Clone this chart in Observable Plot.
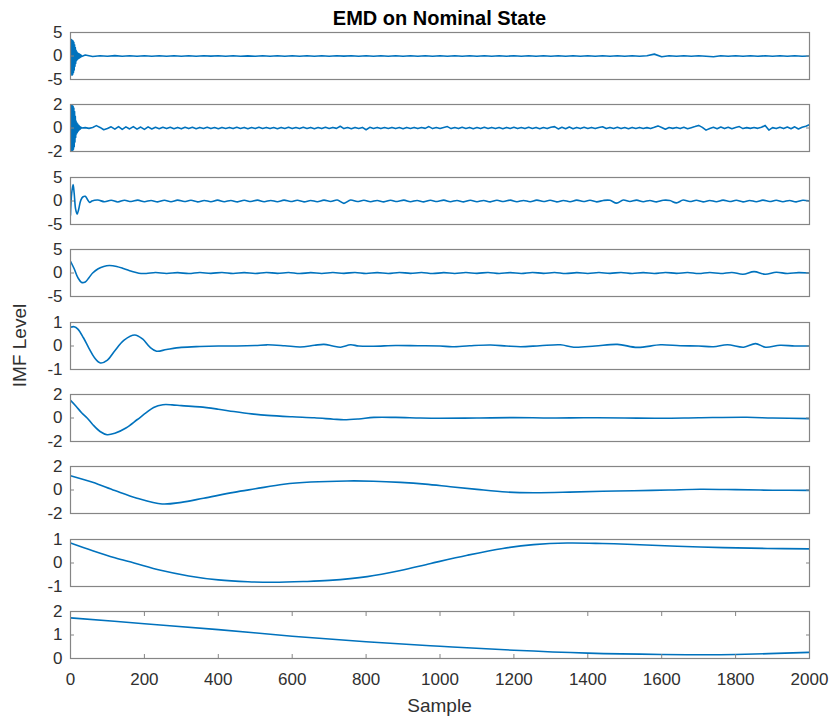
<!DOCTYPE html>
<html><head><meta charset="utf-8">
<script src="https://cdn.jsdelivr.net/npm/d3@7"></script>
<script src="https://cdn.jsdelivr.net/npm/@observablehq/plot@0.6"></script>
<style>
body{margin:0;background:#fff;}
#chart{position:relative;width:832px;height:720px;font-family:"Liberation Sans",Arial,sans-serif;}
#chart svg{position:absolute;left:0;}
</style></head><body><div id="chart"></div>
<script>
// ---------- data ----------
const titleText = "EMD on Nominal State";
const yLabelText = "IMF Level";
const xLabelText = "Sample";
const sampleTicks = [0, 200, 400, 600, 800, 1000, 1200, 1400, 1600, 1800, 2000];

// IMF 1 : burst at start (every sample 0..30), then tail every 20 samples from 40
const imf1HeadValues = [0, 3.4, -3.8, 3.5, -4.1, 3.3, -3.9, 3.2, -3.5, 2.9, -3.0, 2.4, -2.2, 1.8, -1.6, 1.2, -1.0, 0.9, -0.8, 0.7, -0.6, 0.5, -0.5, 0.45, -0.4, 0.35, -0.3, 0.25, -0.2, 0.15, -0.1];
const imf1TailValues = [
 0.2,-0.1,0.05,-0.05,0.08,-0.06,0.05,-0.04,0.06,-0.05,
 0.04,-0.06,0.05,-0.04,0.06,-0.05,0.04,-0.03,0.05,-0.06,
 0.05,-0.04,0.03,-0.05,0.06,-0.04,0.05,-0.06,0.04,-0.05,
 0.06,-0.04,0.05,-0.05,0.04,-0.03,0.05,-0.06,0.05,-0.04,
 0.06,-0.05,0.04,-0.05,0.05,-0.06,0.04,-0.05,0.05,-0.04,
 0.06,-0.05,0.04,-0.06,0.05,-0.04,0.05,-0.05,0.06,-0.04,
 0.05,-0.05,0.04,-0.06,0.05,-0.04,0.05,-0.05,0.04,-0.05,
 0.06,-0.04,0.05,-0.05,0.04,-0.06,0.05,0.4,-0.15,0.05,
 -0.04,0.05,-0.05,0.04,-0.06,-0.15,0.05,-0.04,0.05,-0.05,
 0.04,-0.05,0.05,-0.04,0.06,-0.05,0.04,-0.05,0.0];

// IMF 2 : burst (every sample 0..30), then tail every 10 samples from 40
const imf2HeadValues = [0, 1.95, -1.9, 1.95, -1.95, 1.9, -1.9, 1.85, -1.8, 1.7, -1.6, 1.4, -1.2, 1.0, -0.8, 0.6, -0.5, 0.45, -0.4, 0.35, -0.3, 0.25, -0.2, 0.2, -0.15, 0.1, -0.1, 0.08, -0.05, 0.05, 0];
const imf2TailValues = [
 0.03,-0.03,0.05,0.2,0.05,-0.15,-0.05,0.1,-0.1,0.12,
 -0.12,0.1,-0.08,0.12,-0.1,0.08,-0.12,0.1,-0.08,0.06,
 -0.06,0.07,-0.05,0.06,-0.06,0.05,-0.07,0.06,-0.05,0.06,
 -0.06,0.05,-0.04,0.06,-0.05,0.04,-0.06,0.05,-0.04,0.05,
 -0.05,0.06,-0.04,0.05,-0.06,0.04,-0.05,0.06,-0.04,0.05,
 -0.05,0.04,-0.06,0.05,-0.04,0.06,-0.05,0.04,-0.05,0.06,
 -0.04,0.05,-0.06,0.04,-0.05,0.06,-0.04,0.05,-0.03,0.15,
 -0.05,0.04,-0.06,0.05,-0.04,0.05,-0.15,0.06,-0.04,0.05,
 -0.05,0.04,-0.04,0.05,-0.05,0.04,-0.06,0.05,-0.04,0.05,
 -0.05,0.04,-0.03,0.12,-0.05,0.04,-0.04,0.05,0.12,-0.05,
 0.04,-0.05,0.06,-0.04,0.05,-0.06,0.04,-0.05,0.06,-0.04,
 0.05,-0.05,0.04,-0.06,0.05,-0.04,0.06,-0.05,0.04,-0.05,
 0.06,-0.04,0.05,-0.06,0.04,-0.05,0.06,0.12,-0.08,0.06,
 -0.06,0.08,-0.06,0.05,-0.05,0.06,-0.04,0.05,-0.05,0.04,
 0.1,-0.05,0.05,-0.04,0.06,-0.05,0.04,-0.06,0.05,-0.04,
 0.05,-0.04,0.03,-0.05,0.06,0.18,0.05,-0.1,0.04,-0.03,
 0.05,-0.05,0.06,-0.06,0.03,0.12,0.22,0.05,-0.18,-0.04,
 0.06,-0.06,0.08,-0.05,0.06,-0.06,0.05,0.12,-0.05,0.03,
 -0.03,0.04,-0.03,0.06,0.22,-0.18,0.03,-0.05,0.06,-0.05,
 0.08,-0.06,0.1,-0.08,0.06,0.15,0.28];

// IMF 3 : head at listed samples, tail every 18 samples from 74
const imf3HeadSamples = [0, 3, 7, 10, 14, 18, 22, 28, 34, 40, 46, 52, 58];
const imf3HeadValues = [-3.0, 1.5, 3.5, 1.6, -1.8, -2.8, -1.8, 0.2, 0.9, 1.0, 0.3, -0.3, 0.0];
const imf3TailValues = [
 0.2,-0.15,0.15,-0.2,0.15,-0.12,0.18,-0.15,0.12,-0.18,
 0.15,-0.15,0.18,-0.12,0.15,-0.18,0.12,-0.15,0.18,-0.15,
 0.12,-0.18,0.15,-0.12,0.18,-0.15,0.12,-0.15,0.18,-0.12,
 0.15,-0.18,0.12,-0.15,0.18,-0.12,0.2,-0.5,0.2,-0.12,
 0.15,-0.15,0.12,-0.18,0.15,-0.12,0.18,-0.15,0.12,-0.18,
 0.15,-0.12,0.18,-0.15,0.12,-0.18,0.15,-0.15,0.12,-0.18,
 0.15,-0.12,0.18,-0.15,0.12,-0.15,0.18,-0.12,0.15,-0.18,
 0.12,-0.15,0.18,-0.12,0.15,-0.18,0.12,0.15,-0.45,0.2,
 -0.12,0.18,-0.15,0.12,-0.18,0.15,0.1,-0.4,0.2,-0.12,
 0.15,-0.18,0.12,-0.15,0.18,-0.12,0.15,-0.18,0.12,-0.15,
 0.18,-0.12,0.15,-0.15,0.12,-0.18,0.15,0.0];

// IMF 4 : head at listed samples, tail every 30 samples from 230
const imf4HeadSamples = [0, 10, 20, 30, 40, 50, 60, 75, 90, 105, 125, 145, 165, 185, 205];
const imf4HeadValues = [2.5, 0.9, -1.0, -2.0, -1.9, -1.0, 0.0, 0.9, 1.4, 1.6, 1.4, 0.9, 0.35, -0.05, -0.1];
const imf4TailValues = [
 0.1,-0.1,0.08,-0.12,0.1,-0.08,0.12,-0.1,0.08,-0.1,
 0.12,-0.08,0.1,-0.12,0.08,-0.1,0.1,-0.08,0.12,-0.1,
 0.08,-0.1,0.12,-0.08,0.1,-0.12,0.08,-0.1,0.1,-0.08,
 0.12,-0.1,0.08,-0.1,0.12,-0.08,0.1,-0.12,0.08,-0.1,
 0.1,-0.08,0.12,-0.1,0.08,-0.1,0.12,-0.08,0.1,-0.12,
 0.1,-0.1,0.12,-0.25,0.3,-0.25,0.15,-0.1,0.08,0.0];

// IMF 5
const imf5Samples = [0,10,20,35,50,65,81,100,120,145,174,195,215,233,260,300,350,400,450,500,532,580,622,660,686,710,731,758,780,820,880,940,1000,1033,1080,1137,1180,1218,1270,1326,1362,1420,1480,1534,1597,1650,1700,1740,1778,1822,1854,1881,1920,1960,2000];
const imf5Values = [0.8,0.82,0.72,0.35,-0.1,-0.5,-0.72,-0.6,-0.2,0.25,0.47,0.3,-0.05,-0.22,-0.15,-0.06,-0.02,0.0,0.0,0.02,0.05,0.01,-0.04,0.03,0.07,0.0,-0.05,0.05,0.0,-0.01,0.02,0.01,0.0,-0.03,0.01,0.04,0.0,-0.03,0.01,0.05,-0.05,0.0,0.07,-0.06,0.05,0.01,0.0,-0.03,0.05,-0.05,0.1,-0.05,0.03,0.0,0.0];

// IMF 6
const imf6Samples = [0,15,30,45,60,80,99,120,150,180,205,225,250,275,300,350,400,442,490,533,600,660,712,740,780,821,880,947,1000,1100,1200,1300,1400,1500,1600,1700,1830,1900,2000];
const imf6Values = [1.5,1.0,0.45,0.0,-0.55,-1.15,-1.42,-1.3,-0.85,-0.15,0.45,0.9,1.13,1.12,1.05,0.95,0.75,0.55,0.35,0.22,0.1,0.02,-0.1,-0.15,-0.08,0.05,0.05,0.0,-0.02,0.0,0.03,0.0,0.02,0.0,-0.02,0.02,0.06,0.0,-0.05];

// IMF 7
const imf7Samples = [0,60,120,180,248,300,360,442,500,577,650,749,820,893,960,1028,1100,1180,1253,1350,1440,1524,1620,1705,1800,1900,2000];
const imf7Values = [1.22,0.65,-0.05,-0.7,-1.19,-1.05,-0.7,-0.2,0.1,0.49,0.68,0.77,0.75,0.65,0.5,0.28,0.05,-0.17,-0.23,-0.18,-0.1,-0.06,0.0,0.06,0.03,-0.02,-0.03];

// IMF 8
const imf8Samples = [0,60,120,172,244,320,400,480,550,630,700,803,893,975,1074,1170,1253,1344,1440,1524,1705,1886,2000];
const imf8Values = [0.85,0.52,0.22,0.0,-0.31,-0.55,-0.72,-0.8,-0.82,-0.79,-0.74,-0.58,-0.32,-0.02,0.33,0.62,0.78,0.85,0.83,0.79,0.68,0.62,0.6];

// IMF 9 (residual)
const imf9Samples = [0,200,400,600,800,1000,1200,1400,1600,1700,1800,2000];
const imf9Values = [1.73,1.48,1.23,0.95,0.71,0.52,0.35,0.23,0.17,0.16,0.17,0.26];

const yDomains = [[-5,5],[-2,2],[-5,5],[-5,5],[-1,1],[-2,2],[-2,2],[-1,1],[0,2]];
const yTicks = [[-5,0,5],[-2,0,2],[-5,0,5],[-5,0,5],[-1,0,1],[-2,0,2],[-2,0,2],[-1,0,1],[0,1,2]];

// ---------- assemble ----------
const headSamples = d3.range(0, 31);
const series = [
  {s: headSamples.concat(d3.range(40, 2001, 20)), v: imf1HeadValues.concat(imf1TailValues), curve: "linear"},
  {s: headSamples.concat(d3.range(40, 2001, 10)), v: imf2HeadValues.concat(imf2TailValues), curve: "linear"},
  {s: imf3HeadSamples.concat(d3.range(74, 2001, 18)), v: imf3HeadValues.concat(imf3TailValues), curve: "catmull-rom"},
  {s: imf4HeadSamples.concat(d3.range(230, 2001, 30)), v: imf4HeadValues.concat(imf4TailValues), curve: "catmull-rom"},
  {s: imf5Samples, v: imf5Values, curve: "catmull-rom"},
  {s: imf6Samples, v: imf6Values, curve: "catmull-rom"},
  {s: imf7Samples, v: imf7Values, curve: "catmull-rom"},
  {s: imf8Samples, v: imf8Values, curve: "catmull-rom"},
  {s: imf9Samples, v: imf9Values, curve: "catmull-rom"}
];

const chart = document.getElementById("chart");
const W = 832, ML = 70, MR = 23, frameTop0 = 32, spacing = 72.4, panelH = 47;
const lineColor = "#0072BD", boxColor = "#858585", textColor = "#303030";
const fmt = d => String(d);

series.forEach((p, i) => {
  const last = i === series.length - 1;
  const mt = 8, mb = last ? 40 : 8;
  const data = p.s.map((s, j) => ({s, v: p.v[j]}));
  const marks = [
    Plot.lineY(data, {x: "s", y: "v", stroke: lineColor, strokeWidth: 1.6, curve: p.curve, clip: true}),
    Plot.axisY({ticks: yTicks[i], anchor: "left", tickSize: -4, tickPadding: 12, tickFormat: fmt, label: null, stroke: boxColor, fill: textColor}),
    Plot.axisY({ticks: yTicks[i], anchor: "right", tickSize: -4, tickFormat: () => "", label: null, stroke: boxColor, fill: textColor})
  ];
  if (last) {
    marks.push(
      Plot.axisX({ticks: sampleTicks, anchor: "bottom", tickSize: -4, tickPadding: 18, tickFormat: fmt, label: null, stroke: boxColor, fill: textColor}),
      Plot.axisX({ticks: sampleTicks, anchor: "top", tickSize: -4, tickFormat: () => "", label: null, stroke: boxColor, fill: textColor})
    );
  }
  marks.push(Plot.frame({stroke: boxColor, strokeWidth: 1.2}));
  const svg = Plot.plot({
    width: W,
    height: mt + panelH + mb,
    marginTop: mt, marginBottom: mb, marginLeft: ML, marginRight: MR,
    style: {fontSize: "17px", fontFamily: '"Liberation Sans", Arial, sans-serif', background: "transparent", overflow: "visible"},
    x: last ? {domain: [0, 2000]} : {domain: [0, 2000], axis: null},
    y: {domain: yDomains[i]},
    marks
  });
  svg.style.top = (frameTop0 + i * spacing - mt) + "px";
  chart.appendChild(svg);
});

// overlay for title and axis labels
const ns = "http://www.w3.org/2000/svg";
const ov = document.createElementNS(ns, "svg");
ov.setAttribute("width", W); ov.setAttribute("height", 720);
ov.style.top = "0px"; ov.style.pointerEvents = "none";
ov.style.fontFamily = '"Liberation Sans", Arial, sans-serif';
function addText(txt, x, y, size, weight, rotate) {
  const t = document.createElementNS(ns, "text");
  t.textContent = txt;
  t.setAttribute("x", x); t.setAttribute("y", y);
  t.setAttribute("text-anchor", "middle");
  t.setAttribute("font-size", size);
  t.setAttribute("fill", weight === "bold" ? "#000" : textColor);
  if (weight) t.setAttribute("font-weight", weight);
  if (rotate) t.setAttribute("transform", `rotate(-90 ${x} ${y})`);
  ov.appendChild(t);
}
const cx = (ML + (W - MR)) / 2;
addText(titleText, cx, 25, 20, "bold");
addText(xLabelText, cx, 712, 19, null);
addText(yLabelText, 26, 345.5, 19, null, true);
chart.appendChild(ov);
</script>
</body></html>
